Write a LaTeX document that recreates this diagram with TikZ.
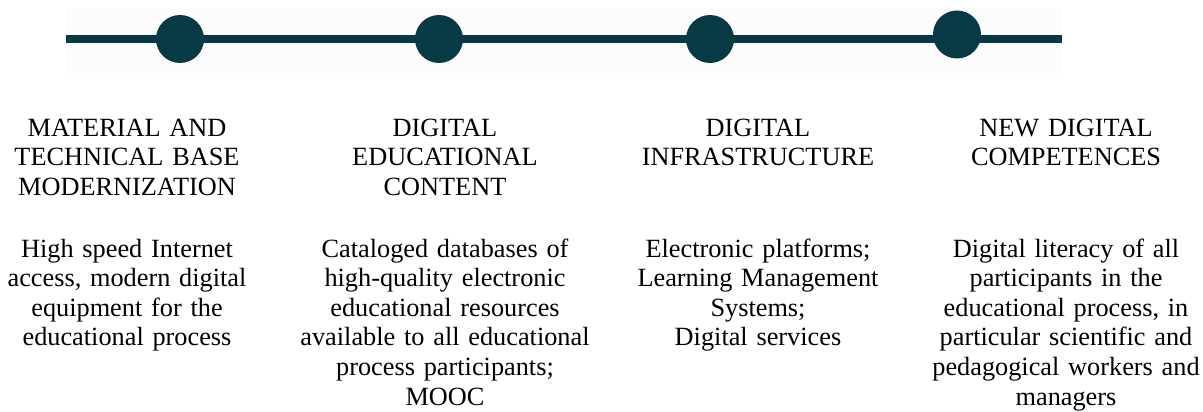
\documentclass[tikz,border=0pt]{standalone}
\usepackage{fontspec}
\setmainfont{Liberation Serif}
\definecolor{tlteal}{HTML}{073A44}
\definecolor{tlshade}{HTML}{FCFCFC}
\begin{document}
\begin{tikzpicture}[x=1pt, y=-1pt]
\tikzset{tlstone/.style={shape=circle, minimum size=48pt, inner sep=0pt, fill=tlteal}}
\tikzset{tlline/.style={line width=8pt, draw=tlteal}}
\tikzset{tltext/.style={anchor=base, text width=300pt, align=center, inner sep=0pt,
  font=\fontsize{26.3}{29.6}\selectfont}}
\useasboundingbox (0,0) rectangle (1203,412);
% base timeline
\fill[tlshade] (66,8) rectangle (1062,73);
\coordinate (s) at (66,39);
\coordinate (e) at (1062,39);
\draw[tlline] (s) -- (e);
% milestones
\node (m1) [tlstone]                        at (180, 39) {};
\node (m2) [tlstone]                        at (439, 39) {};
\node (m3) [tlstone]                        at (710, 39) {};
\node (m4) [tlstone]                        at (957, 34.5) {};
% titles
\node (t1) [tltext] at (127, 136) {MATERIAL AND\\TECHNICAL BASE\\MODERNIZATION};
\node (t2) [tltext] at (445, 136) {DIGITAL\\EDUCATIONAL\\CONTENT};
\node (t3) [tltext] at (758, 136) {DIGITAL\\INFRASTRUCTURE};
\node (t4) [tltext] at (1066, 136) {NEW DIGITAL\\COMPETENCES};
% descriptions
\node (b1) [tltext] at (127, 257) {High speed Internet\\access, modern digital\\equipment for the\\educational process};
\node (b2) [tltext] at (445, 257) {Cataloged databases of\\high-quality electronic\\educational resources\\available to all educational\\process participants;\\MOOC};
\node (b3) [tltext] at (758, 257) {Electronic platforms;\\Learning Management\\Systems;\\Digital services};
\node (b4) [tltext] at (1066, 257) {Digital literacy of all\\participants in the\\educational process, in\\particular scientific and\\pedagogical workers and\\managers};
\end{tikzpicture}
\end{document}
